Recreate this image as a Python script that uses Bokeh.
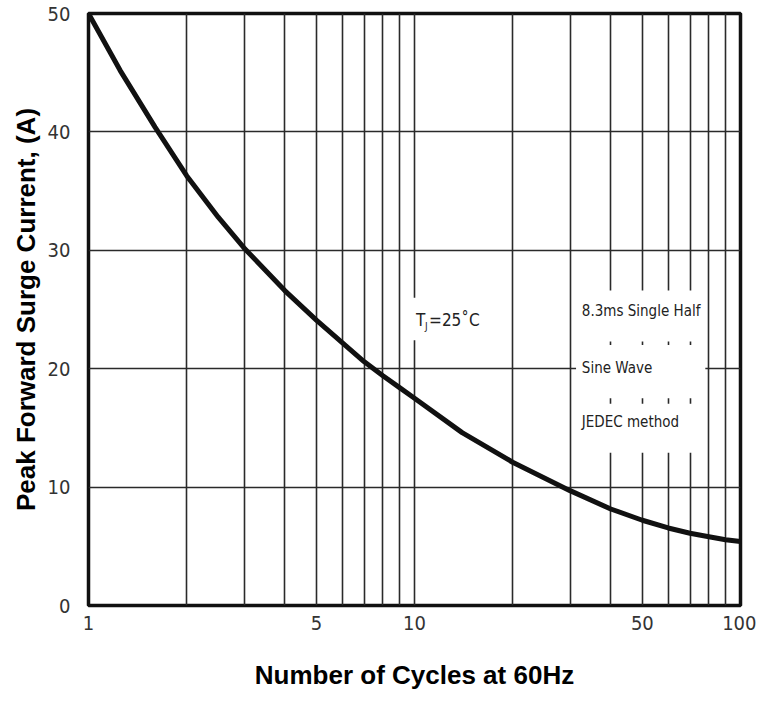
from bokeh.plotting import figure
from bokeh.models import (FixedTicker, NumeralTickFormatter, BoxAnnotation, Label,
                          Range1d)
from bokeh.embed import file_html
from bokeh.resources import INLINE

# ---- data ----
cycles = [1, 1.25, 1.6, 2, 2.5, 3, 4, 5, 6, 7, 8, 9, 10, 14, 20, 30, 40, 50, 60, 70, 80, 90, 100]
surge_current = [50, 45.2, 40.4, 36.3, 32.8, 30.2, 26.6, 24.1, 22.2, 20.6, 19.4, 18.4, 17.5,
                 14.6, 12.1, 9.7, 8.15, 7.2, 6.55, 6.1, 5.8, 5.55, 5.4]

x_tick_values = [1, 5, 10, 50, 100]
y_tick_values = [0, 10, 20, 30, 40, 50]
x_grid_values = [2, 3, 4, 5, 6, 7, 8, 9, 10, 20, 30, 40, 50, 60, 70, 80, 90]
y_grid_values = [10, 20, 30, 40]

x_title = "Number of Cycles at 60Hz"
y_title = "Peak Forward Surge Current, (A)"
note_lines = ["8.3ms Single Half", "Sine Wave", "JEDEC method"]

NARROW = "DejaVu Sans Condensed"
BOLD = "Liberation Sans"

p = figure(x_axis_type="log", output_backend="svg", toolbar_location=None,
           frame_width=652, frame_height=592,
           min_border_left=88, min_border_right=16, min_border_top=13, min_border_bottom=85,
           x_range=Range1d(1, 100), y_range=Range1d(0, 50))

p.background_fill_color = "white"
p.border_fill_color = "white"
p.outline_line_color = "#111111"
p.outline_line_width = 3.5

# grid
p.xgrid.ticker = FixedTicker(ticks=x_grid_values)
p.ygrid.ticker = FixedTicker(ticks=y_grid_values)
for g in (p.xgrid, p.ygrid):
    g.grid_line_color = "#2a2a2a"
    g.grid_line_width = 1.6
    g.grid_line_alpha = 1.0
p.xgrid.minor_grid_line_color = None

# axes
p.xaxis.ticker = FixedTicker(ticks=x_tick_values)
p.yaxis.ticker = FixedTicker(ticks=y_tick_values)
p.xaxis.formatter = NumeralTickFormatter(format="0")
for ax in (p.xaxis, p.yaxis):
    ax.axis_line_color = None
    ax.major_tick_line_color = None
    ax.minor_tick_line_color = None
    ax.major_label_text_font = NARROW
    ax.major_label_text_font_size = "20px"
    ax.major_label_text_color = "#333333"
    ax.axis_label_text_font = BOLD
    ax.axis_label_text_font_style = "bold"
    ax.axis_label_text_font_size = "26px"
    ax.axis_label_text_color = "black"
p.xaxis.axis_label = x_title
p.yaxis.axis_label = y_title
p.xaxis.major_label_standoff = 4
p.yaxis.major_label_standoff = 12
p.xaxis.axis_label_standoff = 27
p.yaxis.axis_label_standoff = 4

# curve
p.line(cycles, surge_current, line_color="#111111", line_width=5, line_join="round")

# white boxes behind the annotation text (break the grid lines)
for (b, t) in [(22.3, 26.6), (17.5, 22.0), (12.9, 17.05)]:
    p.add_layout(BoxAnnotation(left=31.3, right=78.0, bottom=b, top=t,
                               fill_color="white", fill_alpha=1.0,
                               line_color=None, line_alpha=0))
p.add_layout(BoxAnnotation(left=9.6, right=14.5, bottom=22.4, top=26.0,
                           fill_color="white", fill_alpha=1.0,
                           line_color=None, line_alpha=0))

# T_J = 25 °C label
p.add_layout(Label(x=9.9, y=24.1, x_offset=3, text="T", text_font=NARROW,
                   text_font_size="17px", text_color="#222222",
                   text_baseline="middle", text_align="left"))
p.add_layout(Label(x=9.9, y=24.1, x_offset=12, y_offset=-6, text="J", text_font=NARROW,
                   text_font_size="10px", text_color="#222222",
                   text_baseline="middle", text_align="left"))
p.add_layout(Label(x=9.9, y=24.1, x_offset=16, text="=25\u02daC", text_font=NARROW,
                   text_font_size="17px", text_color="#222222",
                   text_baseline="middle", text_align="left"))

# test-condition note
for txt, yv in zip(note_lines, [24.9, 20.1, 15.5]):
    p.add_layout(Label(x=32.6, y=yv, text=txt, text_font=NARROW,
                       text_font_size="15px", text_color="#222222",
                       text_baseline="middle", text_align="left"))

open("out.html", "w").write(file_html(p, INLINE))
